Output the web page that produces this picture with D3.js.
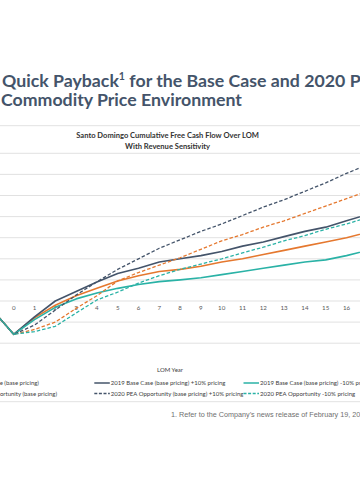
<!DOCTYPE html>
<html><head><meta charset="utf-8">
<script src="https://cdn.jsdelivr.net/npm/d3@7"></script>
<style>html,body{margin:0;padding:0;background:#fff;overflow:hidden}</style>
</head><body>
<svg id="c" width="360" height="504"></svg>
<script>
// ---- data ----
const years = [-1,0,1,2,3,4,5,6,7,8,9,10,11,12,13,14,15,16,17,18];
const xTickLabels = [0,1,2,3,4,5,6,7,8,9,10,11,12,13,14,15,16];
const yTicks = [-200,-100,0,100,200,300,400,500,600,700];
const base2019     = [-45,-158,-80,-20,25,60,95,120,140,150,165,185,200,220,240,260,280,300,325,350];
const base2019Up   = [-45,-158,-75,0,45,90,130,155,185,200,215,235,260,280,305,330,350,380,410,440];
const base2019Down = [-45,-158,-88,-30,10,38,60,78,92,100,110,125,140,155,170,185,195,215,240,260];
const pea2020      = [-45,-158,-135,-100,-35,25,95,135,170,205,245,285,315,350,380,415,450,485,520,555];
const pea2020Up    = [-45,-158,-114,-43,28,91,150,200,250,290,330,365,405,445,480,520,560,605,645,685];
const pea2020Down  = [-45,-158,-145,-120,-57,5,42,85,120,150,175,200,228,255,285,310,340,365,395,420];
const seriesNames = [
  "2019 Base Case (base pricing)",
  "2019 Base Case (base pricing) +10% pricing",
  "2019 Base Case (base pricing) -10% pricing",
  "2020 PEA Opportunity (base pricing)",
  "2020 PEA Opportunity (base pricing) +10% pricing",
  "2020 PEA Opportunity -10% pricing"
];
const seriesValues = [base2019, base2019Up, base2019Down, pea2020, pea2020Up, pea2020Down];
const seriesColors = ["#E5782F","#44546A","#2AB2A6","#E5782F","#44546A","#2AB2A6"];
const seriesDashed = [false,false,false,true,true,true];

const svg = d3.select("#c");
const W = 360;

function fit(sel, target){
  const w = sel.node().getComputedTextLength();
  const fs = parseFloat(sel.attr("font-size"));
  sel.attr("font-size", fs*target/w);
}

// ---- slide title ----
const t1 = svg.append("text").attr("x",2).attr("y",86.5)
  .attr("font-family","Lato").attr("font-weight",700).attr("font-size",19).attr("fill","#44546A");
t1.append("tspan").text("Quick Payback");
t1.append("tspan").text("1").attr("font-size","0.6em").attr("dy",-7);
t1.append("tspan").text(" for the Base Case and 2020 PEA").attr("dy",7);
const t2 = svg.append("text").attr("x",1).attr("y",106)
  .attr("font-family","Lato").attr("font-weight",700).attr("font-size",19).attr("fill","#44546A")
  .text("Commodity Price Environment");
fit(t2, 241);
t1.attr("font-size", t2.attr("font-size"));

// ---- chart frame ----
svg.append("line").attr("x1",0).attr("x2",W).attr("y1",125.7).attr("y2",125.7).attr("stroke","#d9d9d9").attr("stroke-width",0.8);
svg.append("line").attr("x1",0).attr("x2",W).attr("y1",401.7).attr("y2",401.7).attr("stroke","#d9d9d9").attr("stroke-width",0.8);

// ---- chart title ----
const ct1 = svg.append("text").attr("x",167.6).attr("y",138).attr("text-anchor","middle")
  .attr("font-family","Lato").attr("font-weight",700).attr("font-size",8).attr("fill","#333333")
  .text("Santo Domingo Cumulative Free Cash Flow Over LOM");
fit(ct1,183);
const ct2 = svg.append("text").attr("x",167.6).attr("y",148.5).attr("text-anchor","middle")
  .attr("font-family","Lato").attr("font-weight",700).attr("font-size",ct1.attr("font-size")).attr("fill","#333333")
  .text("With Revenue Sensitivity");

// ---- scales ----
const x = d3.scaleLinear().domain([0,16]).range([13.7,346.5]);
const y = d3.scaleLinear().domain([-200,700]).range([343.2,153.3]);

// gridlines
svg.append("g").selectAll("line").data(yTicks).join("line")
  .attr("x1",0).attr("x2",W).attr("y1",d=>y(d)).attr("y2",d=>y(d))
  .attr("stroke","#d9d9d9").attr("stroke-width",0.8);

// x tick labels
svg.append("g").selectAll("text").data(xTickLabels).join("text")
  .attr("x",d=>x(d)).attr("y",y(0)+9).attr("text-anchor","middle")
  .attr("font-family","Lato").attr("font-size",6.2).attr("fill","#595959")
  .text(d=>d);

// lines
const line = d3.line().x((d,i)=>x(years[i])).y(d=>y(d));
const lg = svg.append("g");
seriesValues.forEach((vals,k)=>{
  lg.append("path").datum(vals).attr("d",line)
    .attr("fill","none").attr("stroke",seriesColors[k])
    .attr("stroke-width",seriesDashed[k]?1.3:1.6)
    .attr("stroke-dasharray",seriesDashed[k]?"3.5,2":null)
    .attr("stroke-linejoin","round");
});

// axis title
const at = svg.append("text").attr("x",170).attr("y",371.5).attr("text-anchor","middle")
  .attr("font-family","Lato").attr("font-size",6.5).attr("fill","#404040").text("LOM Year");
fit(at,26);

// legend
const legCols = [-56, 94.3, 243.5];
const legRows = [385, 395.5];
const leg = svg.append("g");
const legItems = seriesNames.map((n,i)=>({n, i, col: i%3, row: Math.floor(i/3)}));
let legFs = 6.3;
const probe = leg.append("text").attr("font-family","Lato").attr("font-size",legFs).text(seriesNames[1]);
legFs = legFs*114.7/probe.node().getComputedTextLength();
probe.remove();
legItems.forEach(d=>{
  const lx = legCols[d.col], ly = legRows[d.row];
  leg.append("line").attr("x1",lx).attr("x2",lx+15.5).attr("y1",ly-2).attr("y2",ly-2)
    .attr("stroke",seriesColors[d.i]).attr("stroke-width",1.5)
    .attr("stroke-dasharray",seriesDashed[d.i]?"3,1.6":null);
  leg.append("text").attr("x",lx+16.5).attr("y",ly)
    .attr("font-family","Lato").attr("font-size",legFs).attr("fill","#404040").text(d.n);
});

// footnote
const fn = svg.append("text").attr("x",171).attr("y",417)
  .attr("font-family","Liberation Sans").attr("font-size",7.2).attr("fill","#6f6f6f")
  .text("1. Refer to the Company\u2019s news release of February 19, 2020.");
const probe2 = svg.append("text").attr("font-family","Liberation Sans").attr("font-size",7.2)
  .text("1. Refer to the Company\u2019s news release of February 19, 20");
const pw = probe2.node().getComputedTextLength(); probe2.remove();
fn.attr("font-size", 7.2*189/pw);
</script>
</body></html>
